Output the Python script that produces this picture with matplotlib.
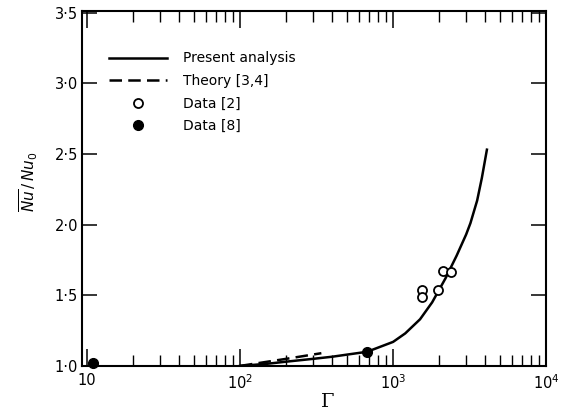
import numpy as np
import matplotlib
matplotlib.use("Agg")
import matplotlib.pyplot as plt
from matplotlib.ticker import FixedLocator, LogLocator, NullFormatter

# ---------------- data ----------------
# present analysis (solid curve)
gamma_present = [100, 150, 200, 300, 400, 500, 676, 800, 1000, 1200, 1500,
                 1800, 2200, 2600, 3000, 3200, 3540, 3800, 4100]
nu_present = [1.00, 1.015, 1.03, 1.05, 1.065, 1.08, 1.10, 1.13, 1.17, 1.23,
              1.33, 1.45, 1.62, 1.78, 1.93, 2.01, 2.17, 2.33, 2.53]

# theory [3,4] (dashed)
gamma_theory = [100, 200, 340]
nu_theory = [1.00, 1.05, 1.09]

# data [2] (open circles)
gamma_data2 = [1550, 1550, 1970, 2120, 2390]
nu_data2 = [1.535, 1.486, 1.535, 1.669, 1.662]

# data [8] (filled circles)
gamma_data8 = [11, 676]
nu_data8 = [1.02, 1.10]

yticks = [1.0, 1.5, 2.0, 2.5, 3.0, 3.5]
ytick_labels = ["1\u00b70", "1\u00b75", "2\u00b70", "2\u00b75", "3\u00b70", "3\u00b75"]
xticks = [10, 100, 1000, 10000]
xtick_labels = ["10", "$10^2$", "$10^3$", "$10^4$"]

# ---------------- figure ----------------
plt.rcParams["font.family"] = "DejaVu Sans"
plt.rcParams["mathtext.fontset"] = "dejavusans"

fig = plt.figure(figsize=(5.66, 4.13), dpi=100)
ax = fig.add_axes([0.145, 0.114, 0.82, 0.859])

ax.plot(gamma_present, nu_present, color="black", lw=1.8,
        label="Present analysis")
ax.plot(gamma_theory, nu_theory, color="black", lw=1.8, ls=(0, (5, 2.5)),
        label="Theory [3,4]")
ax.plot(gamma_data2, nu_data2, ls="none", marker="o", ms=6.5, mfc="white",
        mec="black", mew=1.3, label="Data [2]")
ax.plot(gamma_data8, nu_data8, ls="none", marker="o", ms=7, color="black",
        label="Data [8]", clip_on=False, zorder=5)

ax.set_xscale("log")
ax.set_xlim(9.3, 10000)
ax.set_ylim(1.0, 3.51)

ax.set_yticks(yticks)
ax.set_yticklabels(ytick_labels, fontsize=10.5)
ax.xaxis.set_major_locator(FixedLocator(xticks))
ax.set_xticklabels(xtick_labels, fontsize=10.5)
ax.xaxis.set_minor_locator(LogLocator(base=10, subs=np.arange(2, 10)))
ax.xaxis.set_minor_formatter(NullFormatter())

ax.xaxis.set_tick_params(which="major", direction="in", length=12,
                         width=1.1, top=True, bottom=True, pad=5)
ax.xaxis.set_tick_params(which="minor", direction="in", length=8,
                         width=1.0, top=True, bottom=True)
ax.yaxis.set_tick_params(which="major", direction="in", length=11,
                         width=1.1, left=True, right=True, pad=3)
ax.yaxis.set_tick_params(which="minor", left=False, right=False)

for sp in ax.spines.values():
    sp.set_linewidth(1.5)

ax.set_ylabel(r"$\overline{Nu}\,/\,Nu_0$", fontsize=11)
ax.yaxis.set_label_coords(-0.09, 0.52)
# serif capital gamma as in the original print
ax.set_xlabel("\u0393", fontsize=14, family="DejaVu Serif")
ax.xaxis.set_label_coords(0.53, -0.075)

leg = ax.legend(loc="upper left", bbox_to_anchor=(0.04, 0.91), frameon=False,
                fontsize=10, handlelength=4.2, handletextpad=1.1,
                labelspacing=0.62, borderaxespad=0.2)

fig.savefig("out.png", dpi=100)
